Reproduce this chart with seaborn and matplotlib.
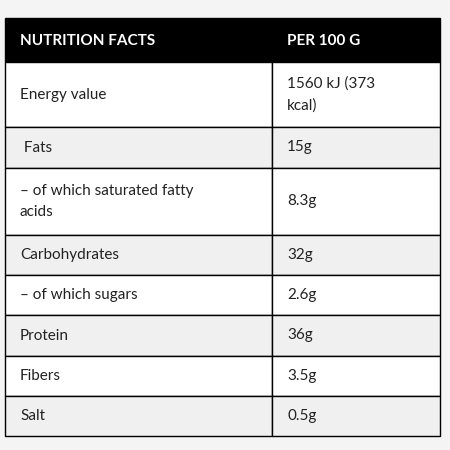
import matplotlib
matplotlib.use("Agg")
import matplotlib.pyplot as plt
import seaborn as sns
from matplotlib.patches import Rectangle

sns.set_theme(style="white")
plt.rcParams['font.family'] = ['Lato', 'DejaVu Sans']

header = ["NUTRITION FACTS", "PER 100 G"]
nutrients = ["Energy value", " Fats", "– of which saturated fatty\nacids", "Carbohydrates",
             "– of which sugars", "Protein", "Fibers", "Salt"]
values = ["1560 kJ (373\nkcal)", "15g", "8.3g", "32g", "2.6g", "36g", "3.5g", "0.5g"]
row_heights = [65, 41, 67, 40, 40, 41, 40, 40]
shaded = [False, True, False, True, False, True, False, True]

fig = plt.figure(figsize=(4.5, 4.5), dpi=100)
fig.patch.set_facecolor("#f4f4f4")
ax = fig.add_axes([0, 0, 1, 1])
ax.set_xlim(0, 450); ax.set_ylim(450, 0); ax.axis("off")

x0, xm, x1 = 5, 272, 440
y = 18
ax.add_patch(Rectangle((x0, y), x1 - x0, 44, facecolor="black", edgecolor="black"))
ax.text(20, y + 23, header[0], color="white", fontsize=11, fontweight="bold", va="center")
ax.text(287, y + 23, header[1], color="white", fontsize=11, fontweight="bold", va="center")
y += 44
for name, val, h, sh in zip(nutrients, values, row_heights, shaded):
    fc = "#f0f0f0" if sh else "white"
    ax.add_patch(Rectangle((x0, y), xm - x0, h, facecolor=fc, edgecolor="black", lw=1))
    ax.add_patch(Rectangle((xm, y), x1 - xm, h, facecolor=fc, edgecolor="black", lw=1))
    ax.text(20, y + h / 2, name, fontsize=11, va="center", color="#222222", linespacing=1.7)
    ax.text(287, y + h / 2, val, fontsize=11, va="center", color="#222222", linespacing=1.7)
    y += h

fig.savefig("out.png", dpi=100, facecolor=fig.get_facecolor())
